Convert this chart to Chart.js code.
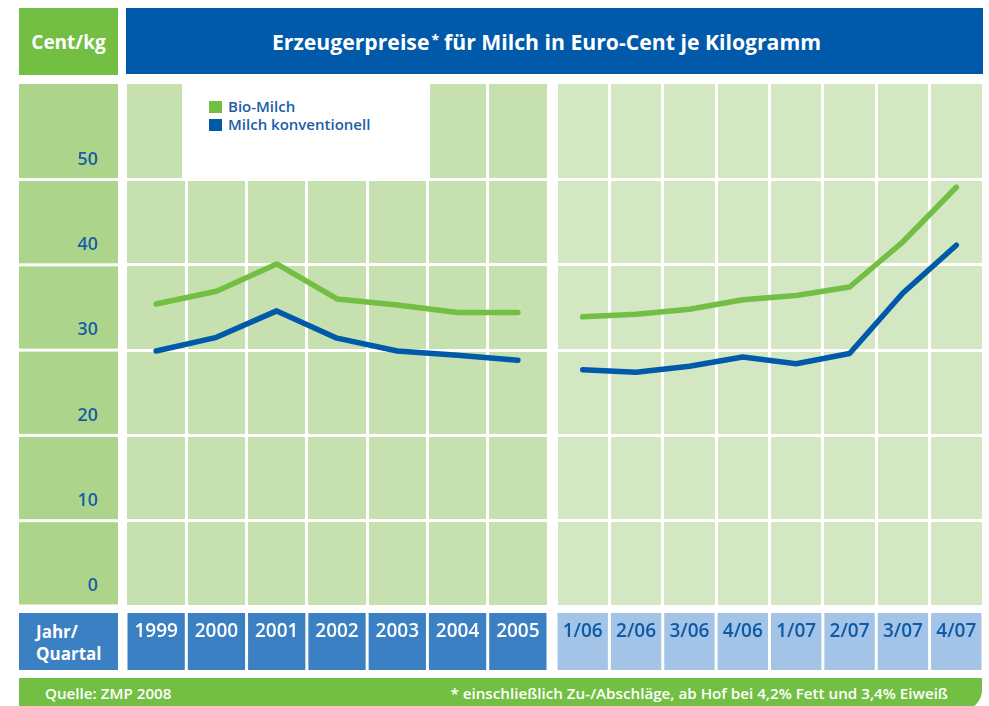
<!DOCTYPE html>
<html>
<head>
<meta charset="utf-8">
<script src="https://cdn.jsdelivr.net/npm/chart.js@4/dist/chart.umd.min.js"></script>
<style>
  html, body { margin: 0; padding: 0; background: #fff; width: 989px; height: 706px; overflow: hidden; font-family: "Open Sans", sans-serif; }
  .abs { position: absolute; }
  #unit { left: 19px; top: 8px; width: 99px; height: 67px; background: #72bf44; color: #fff; font-weight: 700; font-size: 19px; display: flex; align-items: center; justify-content: center; }
  #title { left: 126px; top: 8px; width: 857px; height: 66px; background: #005aa9; color: #fff; font-weight: 700; font-size: 21.2px; display: flex; align-items: center; justify-content: center; box-sizing: border-box; padding-right: 16px; }
  #title sup { font-size: 14px; position: relative; top: -2px; margin: 0 5px 0 2px; }
  #legend { left: 182px; top: 84px; width: 248px; height: 94px; background: #fff; }
  .li { position: absolute; left: 27px; font-size: 15px; font-weight: 600; color: #1a5ea8; line-height: 18px; white-space: nowrap; }
  .li span { display: inline-block; width: 13px; height: 12px; margin-right: 6px; vertical-align: -1px; }
  #jq { left: 19px; top: 613px; width: 99px; height: 57px; background: #3a80c3; color: #fff; font-weight: 700; font-size: 17px; line-height: 22px; box-sizing: border-box; padding: 8px 0 0 17px; }
  #foot { left: 19px; top: 678px; width: 963px; height: 32px; background: #72bf44; color: #fff; font-size: 15.2px; font-weight: 600; border-bottom-right-radius: 20px; }
  #foot .l { position: absolute; left: 26px; top: 5px; }
  #foot .r { position: absolute; right: 34px; top: 5px; }
  canvas { position: absolute; }
</style>
</head>
<body>
<div id="unit" class="abs">Cent/kg</div>
<div id="title" class="abs">Erzeugerpreise<sup>*</sup>für Milch in Euro-Cent je Kilogramm</div>
<canvas id="cL" width="529" height="586" style="left:19px;top:84px"></canvas>
<canvas id="cR" width="427" height="586" style="left:556px;top:84px"></canvas>
<div id="legend" class="abs">
  <div class="li" style="top:13px"><span style="background:#72bf44"></span>Bio-Milch</div>
  <div class="li" style="top:31px"><span style="background:#005aa9"></span>Milch konventionell</div>
</div>
<div id="jq" class="abs">Jahr/<br>Quartal</div>
<div id="foot" class="abs"><div class="l">Quelle: ZMP 2008</div><div class="r">* einschließlich Zu-/Abschläge, ab Hof bei 4,2% Fett und 3,4% Eiweiß</div></div>
<script>
const yearLabels = ['1999', '2000', '2001', '2002', '2003', '2004', '2005'];
const quarterLabels = ['1/06', '2/06', '3/06', '4/06', '1/07', '2/07', '3/07', '4/07'];
const bioYears = [35.4, 36.9, 40.1, 36.0, 35.3, 34.4, 34.4];
const convYears = [29.9, 31.5, 34.6, 31.4, 29.9, 29.4, 28.8];
const bioQuarters = [33.9, 34.2, 34.8, 35.9, 36.4, 37.4, 42.7, 49.1];
const convQuarters = [27.7, 27.4, 28.1, 29.2, 28.4, 29.6, 36.7, 42.3];
const yTicks = [0, 10, 20, 30, 40, 50];
const yMin = 0;
const yMax = 61.2;

const GREEN = '#72bf44';
const BLUE = '#005aa9';

const cellPlugin = {
  id: 'cells',
  beforeDraw(chart, args, o) {
    const { ctx, chartArea: a, scales: { x, y } } = chart;
    ctx.save();
    ctx.fillStyle = o.plotColor;
    ctx.fillRect(a.left, a.top, a.right - a.left, a.bottom - a.top);
    if (o.labelColumn) {
      ctx.fillStyle = o.labelColumn;
      const edges = [a.top].concat(yTicks.slice().reverse().map(v => y.getPixelForValue(v)));
      for (let i = 0; i < edges.length - 1; i++) {
        const t = edges[i] + (i ? 1.5 : 0);
        const b = edges[i + 1] - 1.5;
        ctx.fillRect(0, t, 99, b - t);
      }
    }
    const n = chart.data.labels.length;
    const w = (a.right - a.left) / n;
    ctx.fillStyle = o.cellColor;
    for (let i = 0; i < n; i++) {
      const cx = x.getPixelForValue(i);
      ctx.fillRect(cx - w / 2 + 1.5, a.bottom + 7, w - 3, chart.height - a.bottom - 7);
    }
    ctx.restore();
  }
};

function makeChart(id, labels, bio, conv, o) {
  return new Chart(document.getElementById(id), {
    type: 'line',
    data: {
      labels: labels,
      datasets: [
        { label: 'Bio-Milch', data: bio, borderColor: GREEN },
        { label: 'Milch konventionell', data: conv, borderColor: BLUE }
      ]
    },
    options: {
      responsive: false,
      maintainAspectRatio: false,
      animation: false,
      layout: { padding: 0 },
      elements: {
        line: { borderWidth: 5.5, tension: 0, borderCapStyle: 'round', borderJoinStyle: 'round' },
        point: { radius: 0, hoverRadius: 0 }
      },
      plugins: {
        legend: { display: false },
        tooltip: { enabled: false },
        cells: { plotColor: o.plotColor, labelColumn: o.labelColumn, cellColor: o.cellColor }
      },
      scales: {
        x: {
          type: 'category',
          offset: true,
          border: { display: false },
          grid: { offset: true, color: '#ffffff', lineWidth: 3, drawTicks: false },
          ticks: { color: o.tickColor, font: { family: 'Open Sans', size: 19, weight: '600' }, padding: 14, maxRotation: 0, autoSkip: false },
          afterFit: s => { s.height = 64; s.paddingLeft = 0; s.paddingRight = 0; }
        },
        y: {
          min: yMin,
          max: yMax,
          border: { display: false },
          afterBuildTicks: s => { s.ticks = yTicks.map(v => ({ value: v })); },
          grid: { color: '#ffffff', lineWidth: 3, drawTicks: false },
          ticks: { display: o.showY, color: '#1a5ea8', font: { family: 'Open Sans', size: 18, weight: '600' }, padding: 28, labelOffset: -20 },
          afterFit: s => { s.width = o.yWidth; s.paddingTop = 0; s.paddingBottom = 0; }
        }
      }
    },
    plugins: [cellPlugin]
  });
}

makeChart('cL', yearLabels, bioYears, convYears, {
  plotColor: '#c6e0b0', labelColumn: '#acd48b', cellColor: '#3a80c3', tickColor: '#ffffff', showY: true, yWidth: 107
});
makeChart('cR', quarterLabels, bioQuarters, convQuarters, {
  plotColor: '#d4e7c3', labelColumn: null, cellColor: '#a3c3e7', tickColor: '#0d5aa7', showY: false, yWidth: 0
});
</script>
</body>
</html>
